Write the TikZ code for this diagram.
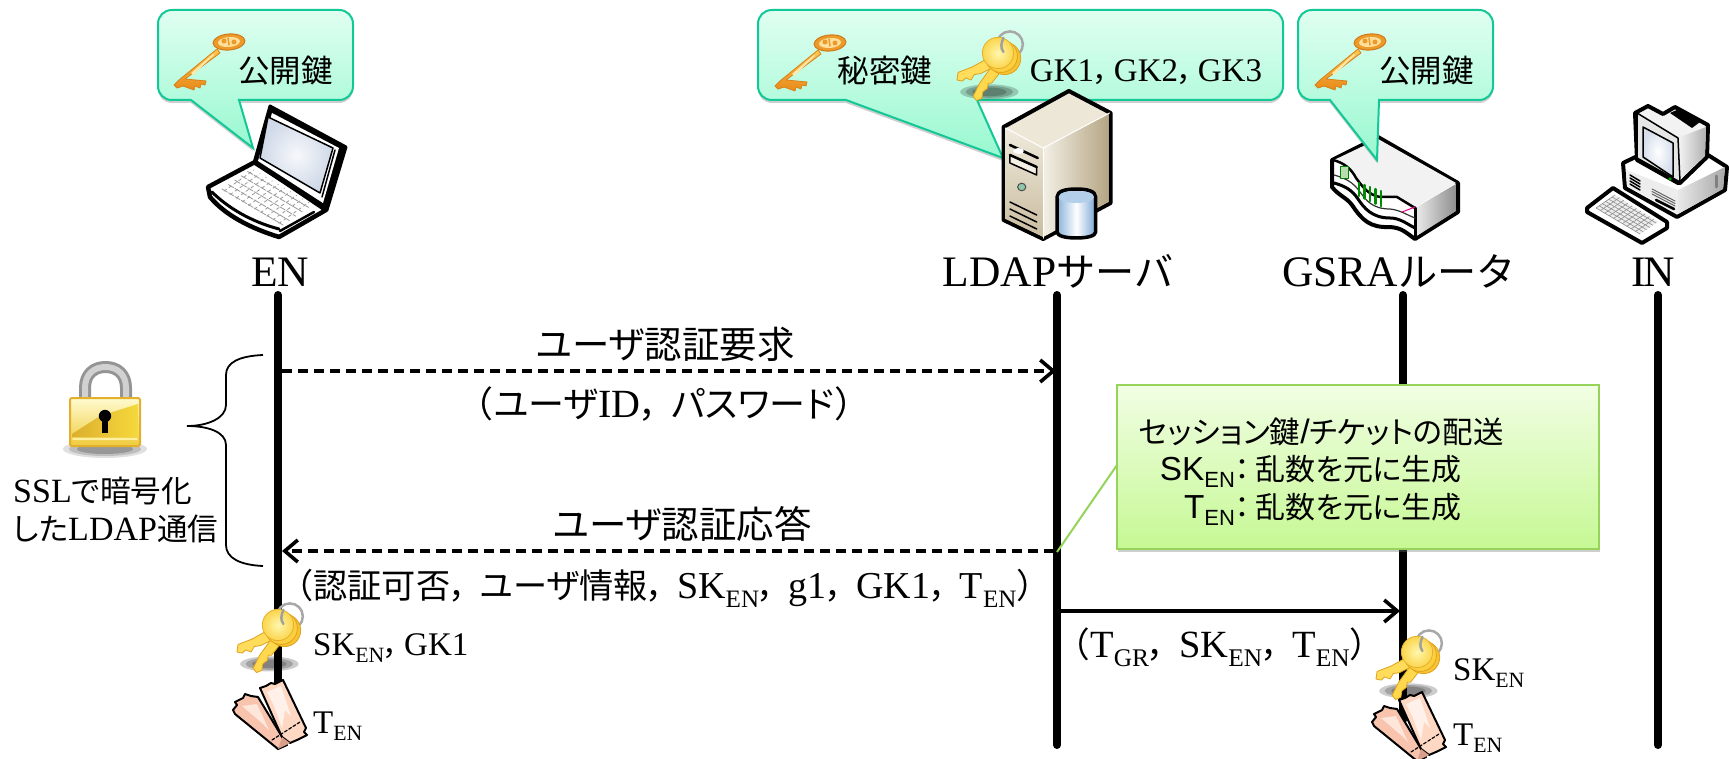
\documentclass[tikz,border=0pt]{standalone}
\usepackage{graphicx}
\usepackage{fontspec}
\setmainfont{Liberation Serif}
\setsansfont{Liberation Sans}
\newfontfamily\jp[Scale=0.9,RawFeature=+palt]{Noto Sans CJK JP}
\newfontfamily\jpf[Scale=0.9]{Noto Sans CJK JP}
\usetikzlibrary{arrows.meta,shadows}
\newcommand\J[1]{{\jp #1}}
\newcommand\Jf[1]{{\jpf #1}}
\newcommand\cm{\J{，}\hspace{0.33em}}
\newcommand\cmn{\J{，}\hspace{0.15em}}
\newcommand\fsz[1]{\fontsize{#1}{#1}\selectfont}
\newcommand\ssb[1]{\raisebox{-0.24em}{\scalebox{0.66}{#1}}}
\newcommand\hx[1]{\definecolor{#1}{HTML}{#1}}
\hx{E0FFF1}\hx{98F8D0}\hx{F1FEE4}\hx{C6F894}
\hx{D8801A}\hx{FFC850}\hx{E88A1A}\hx{D07A18}\hx{EC9A2A}\hx{FFDF9A}\hx{FFE9A8}\hx{A8A8A8}\hx{DFA21E}\hx{FFD84E}\hx{FFDC5A}\hx{E0A41E}
\hx{F6C332}\hx{FBCF3E}\hx{E6B030}\hx{FFF7AE}\hx{FBD54C}\hx{A0A0A0}\hx{F9C4AE}\hx{FFE6DA}\hx{FFD8C4}\hx{FFF1E9}\hx{D8A08A}\hx{F2F2F2}
\hx{EDEDED}\hx{8E8E8E}\hx{B8DDB0}\hx{FFFFFF}\hx{EDE7D8}\hx{EFEADC}\hx{C9BC9F}\hx{F3EFE5}\hx{B5A684}\hx{F4F0E6}\hx{8FC7AC}\hx{8AB2DA}
\hx{7AA6D6}\hx{B3CFEA}\hx{E8E8E8}\hx{F0F0F0}\hx{B0B0B0}\hx{E6E6E6}\hx{D6DEEC}\hx{F6F8FB}\hx{D0D9E8}\hx{E2B02C}\hx{FFFBD0}\hx{EFCB3C}
\hx{DDAE2E}\hx{F5D93C}\hx{FFF0A0}
\definecolor{cborder}{HTML}{12C896}
\definecolor{nborder}{HTML}{96D35A}
\tikzset{
  lifeline/.style={line width=8pt,line cap=round,black},
  msgtip/.style={-{Straight Barb[length=13pt,width=22pt,line width=3.6pt]}},
  msgdash/.style={line width=3.4pt,dash pattern=on 10pt off 6pt,msgtip},
  msgsolid/.style={line width=3.4pt,msgtip},
  calloutbox/.style={draw=cborder,line width=2pt,top color=E0FFF1,bottom color=98F8D0,
     drop shadow={shadow xshift=0pt,shadow yshift=-3pt,opacity=.35,fill=black!55}},
  notebox/.style={draw=nborder,line width=2pt,top color=F1FEE4,bottom color=C6F894,
     drop shadow={shadow xshift=1pt,shadow yshift=-3pt,opacity=.35,fill=black!55}},
  lbl/.style={inner sep=0pt,anchor=base,text=black},
  lbll/.style={inner sep=0pt,anchor=base west,text=black},
  ico/.style={line join=round,line cap=round},
}
% callout: x0,x1,p1,tipx,tipy,p2
\newcommand\calloutshape[6]{%
  \path[calloutbox] ({#1+14},10) -- ({#2-14},10) .. controls ({#2-6},10) and (#2,16) .. (#2,24)
    -- (#2,86) .. controls (#2,94) and ({#2-6},100) .. ({#2-14},100)
    -- (#6,100) -- (#4,#5) -- (#3,100)
    -- ({#1+14},100) .. controls ({#1+6},100) and (#1,94) .. (#1,86)
    -- (#1,24) .. controls (#1,16) and ({#1+6},10) .. ({#1+14},10) -- cycle;}
% single key, origin at centre of the bow
\newcommand\singlekey[2]{\begin{scope}[shift={(#1,#2)},ico]
  \path[draw=D8801A,line width=.8pt,top color=FFC850,bottom color=E88A1A]
    (-12,7) -- (-50,38) -- (-55,43) -- (-52,46) -- (-46,44) -- (-35,48) -- (-34,44) -- (-29,46)
    -- (-28,42) -- (-24,43) -- (-23,39) -- (-44,37) -- (-9,11) -- cycle;
  \path[draw=D07A18,line width=1pt,fill=EC9A2A,rotate=5] (0,0) ellipse [x radius=16,y radius=8];
  \path[fill=FFDF9A,rotate=5] (0,0) ellipse [x radius=11,y radius=5];
  \path[fill=EC9A2A] (-5,-1) circle [radius=2.5] (5,0) circle [radius=2.5];
  \path[draw=EC9A2A,line width=1.5pt] (-1,-4) -- (0,3);
  \path[fill=FFE9A8] (-38,31) -- (-16,12) -- (-15,13) -- (-36,33) -- cycle;
\end{scope}}
% bunch of keys, origin at the bow of the front key
\newcommand\keybunch[2]{\begin{scope}[shift={(#1,#2)},scale=1.08,ico]
  \foreach \r/\q in {27/7,22/5.5,16/4}{\path[fill=black,opacity=.2] (-8,36) ellipse [x radius=\r,y radius=\q];}
  \path[draw=A8A8A8,line width=2.5pt] (11,-8) circle [radius=12];
  \path[draw=DFA21E,line width=.8pt,fill=FFD84E]
    (-4,10) -- (-17,28) -- (-23,40) -- (-20,44) -- (-15,42) -- (-14,36) -- (-10,33) -- (-9,28) -- (-6,28) -- (5,14) -- cycle;
  \path[draw=DFA21E,line width=.8pt,fill=FFDC5A]
    (-6,3) -- (-24,13) -- (-37,18) -- (-38,25) -- (-33,26) -- (-30,23) -- (-25,25) -- (-22,20) -- (-16,19) -- (-2,12) -- cycle;
  \path[draw=E0A41E,line width=.8pt,fill=F6C332] (6,5) circle [radius=15];
  \path[draw=E0A41E,line width=.8pt,fill=FBCF3E] (3,3) circle [radius=15];
  \path[draw=E6B030,line width=.8pt,inner color=FFF7AE,outer color=FBD54C] (0,0) circle [radius=14.5];
  \path[draw=A0A0A0,line width=2.5pt] (5,-1) .. controls (2,-5) and (3,-9) .. (5,-14);
\end{scope}}
% tickets, origin at top of the front stub
\newcommand\ticketpair[2]{\begin{scope}[shift={(#1,#2)},ico]
  \path[draw=black,line width=2pt,fill=F9C4AE] (-50,30) -- (-46,25) -- (-48,22) -- (-40,18) -- (-38,14) -- (-32,16) -- (-25,17)
     -- (4,65) -- (-5,69) -- (-48,34) -- cycle;
  \path[fill=FFE6DA] (-41,26) -- (-26,24) -- (-14,50) -- (-20,44) -- cycle;
  \path[draw=black,line width=2pt,fill=FFD8C4] (-23,8) -- (-17,6) -- (-12,3) -- (-8,4) -- (0,0) -- (23,48) -- (21,52) -- (24,55)
     -- (14,60) -- (7,63) -- (-1,57) -- cycle;
  \path[fill=FFF1E9] (-16,12) -- (-2,6) -- (8,36) -- (2,30) -- (-1,48) -- (-9,26) -- cycle;
  \path[fill=D8A08A] (-1,57) -- (7,63) -- (-5,69) -- cycle;
  \draw[line width=1.2pt,dash pattern=on 3pt off 2pt] (-11,60) -- (17,42);
\end{scope}}
\begin{document}
\begin{tikzpicture}[x=1pt,y=-1pt]
\useasboundingbox (0,0) rectangle (1729,759);
\fill[white] (0,0) rectangle (1729,759);
% lifeline ends
\coordinate (enT) at (278,295);  \coordinate (enB) at (278,700);
\coordinate (ldT) at (1057,295); \coordinate (ldB) at (1057,745);
\coordinate (grT) at (1403,295); \coordinate (grB) at (1403,720);
\coordinate (inT) at (1658,295); \coordinate (inB) at (1658,745);
\draw[lifeline] (enT) -- (enB);
\draw[lifeline] (ldT) -- (ldB);
\draw[lifeline] (grT) -- (grB);
\draw[lifeline] (inT) -- (inB);

% router, under its callout
\begin{scope}[ico]
  \path[fill=white,draw=black,line width=4pt] (1332,160) -- (1378,137) -- (1458,183) -- (1458,212) -- (1415,239)
     .. controls (1405,232) and (1402,228) .. (1390,227) .. controls (1370,228) and (1362,220) .. (1352,205)
     .. controls (1347,198) and (1338,195) .. (1332,187) -- cycle;
  \path[fill=F2F2F2] (1334,160) -- (1378,139) -- (1456,183) -- (1415,207) -- (1397,197) -- (1380,197)
     .. controls (1368,195) and (1362,186) .. (1356,178) .. controls (1352,170) and (1346,163) .. (1334,160) -- cycle;
  \path[left color=EDEDED,right color=8E8E8E] (1415,208) -- (1456,184) -- (1456,211) -- (1415,237) -- cycle;
  \draw[line width=3pt] (1415,208) -- (1415,238);
  \draw[line width=2.5pt] (1333,160) .. controls (1345,163) and (1352,170) .. (1356,178)
     .. controls (1362,186) and (1368,195) .. (1380,197) -- (1397,197) -- (1415,208);
  \draw[line width=3pt] (1334,183) .. controls (1345,186) and (1352,190) .. (1358,199)
     .. controls (1364,208) and (1372,218) .. (1390,218) .. controls (1400,218) and (1407,224) .. (1415,228);
  \draw[line width=1.2pt,black!80] (1334,175) .. controls (1345,178) and (1353,182) .. (1360,192)
     .. controls (1366,200) and (1372,209) .. (1390,209) .. controls (1400,210) and (1407,215) .. (1415,218);
  \path[fill=B8DDB0,draw=green!50!black,line width=1pt] (1340,167) rectangle (1348,179);
  \foreach \i in {0,1,2,3,4}{\draw[line width=2.2pt,green!55!black] ({1359+\i*5.5},{183+\i*2}) -- ({1359+\i*5.5},{196+\i*2.6});}
  \draw[line width=1pt,magenta] (1402,212) -- (1415,207);
\end{scope}

% callouts
\calloutshape{158}{353}{191}{253}{148}{239}
\calloutshape{758}{1283}{846}{1003}{158}{977}
\calloutshape{1298}{1493}{1330}{1377}{160}{1379}

% laptop
\begin{scope}[ico]
  \path[fill=white,draw=black,line width=4.5pt] (208,187) -- (255,162) -- (326,210) -- (279,237)
     .. controls (250,228) and (225,215) .. (210,197) -- cycle;
  \draw[line width=3pt] (212,192) .. controls (228,208) and (252,222) .. (279,229);
  \draw[line width=2.5pt] (280,231) -- (314,212);
  \foreach \i in {0,1,2,3,4}{
    \draw[line width=.8pt,black!40,dash pattern=on 6pt off 1.5pt] ({222+6.4*\i},{189-4.4*\i}) -- ({283+6.4*\i},{225-4.4*\i});}
  \foreach \i in {0,...,9}{
    \draw[line width=.8pt,black!40,dash pattern=on 3pt off 3pt] ({224+6.1*\i},{191+3.6*\i}) -- ({254+6.1*\i},{170+3.6*\i});}
  \path[fill=black,draw=black,line width=3pt] (270,106) -- (346,147) -- (327,210) -- (254,163) -- cycle;
  \path[fill=white] (272,113) -- (339,148) -- (323,203) -- (258,161) -- cycle;
  \draw[line width=1.5pt] (335,150) -- (322,197);
  \path[draw=black,line width=1.5pt,inner color=F6F8FB,outer color=D0D9E8] (268,117) -- (333,148) -- (320,193) -- (260,158) -- cycle;
\end{scope}

% server
\begin{scope}[shift={(-52.9,0)},xscale=1.0714,ico]
  \path[fill=EDE7D8,draw=black,line width=4pt] (1047,91) -- (1086,113) -- (1086,203) -- (1023,239) -- (986,220) -- (986,127) -- cycle;
  \path[top color=EFEADC,bottom color=C9BC9F] (988,128) -- (1023,148) -- (1023,237) -- (988,219) -- cycle;
  \path[left color=F3EFE5,right color=B5A684] (1023,148) -- (1084,114) -- (1084,202) -- (1023,237) -- cycle;
  \draw[white,line width=1.2pt] (1023,148) -- (1023,238);
  \draw[white,line width=1pt] (988,128) -- (1023,148) -- (1085,113);
  \draw[line width=2.5pt] (992,145) -- (1018,158);
  \path[fill=white] (1000,151) ellipse [x radius=5,y radius=3];
  \path[fill=F4F0E6,draw=black,line width=1.5pt] (992,155) -- (1017,167) -- (1017,175) -- (992,163) -- cycle;
  \draw[line width=2.5pt] (992,155) -- (1017,167);
  \path[fill=8FC7AC,draw=black!70,line width=1pt] (1003,187) circle [radius=3.8];
  \foreach \i in {0,1,2,3}{\draw[line width=1.5pt] (992,{202+\i*7}) -- (1017,{215+\i*7});}
  \path[draw=black,line width=3.5pt,left color=8AB2DA,right color=7AA6D6,middle color=FFFFFF]
     (1036,197) .. controls (1036,191) and (1044,189) .. (1054,189) .. controls (1064,189) and (1072,191) .. (1072,197)
     -- (1072,232) .. controls (1072,236) and (1064,238) .. (1054,238) .. controls (1044,238) and (1036,236) .. (1036,232) -- cycle;
  \path[fill=B3CFEA] (1054,197) ellipse [x radius=16.5,y radius=6];
\end{scope}

% desktop computer
\begin{scope}[ico]
  \path[fill=white,draw=black,line width=4pt] (1623,163) -- (1650,150) -- (1700,150) -- (1727,167) -- (1725,190) -- (1677,217) -- (1625,188) -- cycle;
  \path[left color=E8E8E8,right color=A8A8A8] (1678,190) -- (1725,167) -- (1723,189) -- (1678,214) -- cycle;
  \path[fill=EDEDED] (1626,170) -- (1678,190) -- (1678,214) -- (1627,186) -- cycle;
  \foreach \i in {0,...,3}{\draw[line width=1.5pt] (1630,{175+\i*3}) -- (1640,{181+\i*3});}
  \foreach \i in {0,1,2}{\draw[line width=1pt,black!60] (1652,{189+\i*2.5}) -- (1675,{201+\i*2.5});}
  \draw[line width=2.5pt] (1656,200) -- (1674,209);
  \draw[black!50,line width=3pt] (1716,176) -- (1716,187);
  \path[fill=F2F2F2,draw=black,line width=4pt] (1635,113) -- (1648,106) -- (1663,114) -- (1675,107) -- (1708,125) -- (1707,157) -- (1680,183) -- (1678,183) -- (1637,160) -- cycle;
  \path[left color=F0F0F0,right color=B0B0B0] (1680,137) -- (1706,127) -- (1705,155) -- (1680,180) -- cycle;
  \path[fill=E6E6E6,draw=black,line width=1.5pt] (1637,113) -- (1678,138) -- (1680,182) -- (1637,158) -- cycle;
  \path[draw=black,line width=1.5pt,inner color=FFFFFF,outer color=D6DEEC] (1643,127) -- (1673,143) -- (1673,177) -- (1643,157) -- cycle;
  \path[fill=black] (1670,113) -- (1679,109) -- (1700,122) -- (1692,128) -- cycle;
  \path[fill=green!60!black] (1670,179) circle [radius=1.8];
  \path[fill=white,draw=black,line width=4pt] (1587,208) -- (1613,188) -- (1667,222) -- (1667,228) -- (1642,243) -- (1587,212) -- cycle;
  \path[fill=EDEDED] (1596,208) -- (1615,195) -- (1658,222) -- (1640,234) -- cycle;
  \foreach \i in {0,...,5}{\draw[line width=.6pt,black!45] ({1596+3.2*\i},{208-2.2*\i}) -- ({1640+3.2*\i},{234-2.2*\i});}
  \foreach \i in {0,...,9}{\draw[line width=.6pt,black!45] ({1596+4.4*\i},{208+2.6*\i}) -- ({1615+4.3*\i},{195+2.7*\i});}
\end{scope}

% key icons in the callouts
\singlekey{229}{42}
\singlekey{830}{43}
\singlekey{1370}{42}
\keybunch{998}{53}

% padlock
\begin{scope}[ico]
  \foreach \r/\q/\o in {42/9/.12,36/7/.15,28/5/.2}{\path[fill=black,opacity=\o] (105,449) ellipse [x radius=\r,y radius=\q];}
  \draw[line width=12pt,black!42,line cap=butt] (85,398) -- (85,388) .. controls (85,374) and (94,367) .. (105.5,367) .. controls (117,367) and (126,374) .. (126,388) -- (126,398);
  \draw[line width=6pt,black!18,line cap=butt] (85,398) -- (85,388) .. controls (85,374) and (94,367) .. (105.5,367) .. controls (117,367) and (126,374) .. (126,388) -- (126,398);
  \path[draw=E2B02C,line width=2pt,rounded corners=2pt,top color=FFFBD0,bottom color=EFCB3C] (70,398) rectangle (140,446);
  \path[left color=DDAE2E,right color=F5D93C] (72,434) -- (100,416) -- (138,404) -- (138,437) -- (72,437) -- cycle;
  \draw[line width=1.3pt,FFF0A0] (73,439) -- (137,439);
  \path[fill=black] (105,416) circle [radius=6.2];
  \path[fill=black] (102,418) rectangle (108,433);
\end{scope}

% brace
\draw[line width=1.8pt] (263,355) .. controls (240,356) and (226,362) .. (226,375) -- (226,405)
   .. controls (226,418) and (208,426) .. (187,426) .. controls (208,426) and (226,432) .. (226,445) -- (226,545)
   .. controls (226,558) and (240,565) .. (263,566);

% messages
\coordinate (m1a) at (282,371);  \coordinate (m1b) at (1056,371);
\coordinate (m2a) at (1054,551); \coordinate (m2b) at (282,551);
\coordinate (m3a) at (1060,611); \coordinate (m3b) at (1400,611);
\draw[msgdash] (m1a) -- (m1b);
\draw[msgdash] (m2a) -- (m2b);
\draw[msgsolid] (m3a) -- (m3b);

% note and its leader
\coordinate (ntip) at (1057,552);
\coordinate (nroot) at (1117,465);
\draw[nborder,line width=2pt] (ntip) -- (nroot);
\node[notebox,minimum width=482pt,minimum height=164pt,inner sep=0pt] (notebg) at (1358,467) {};

% keys and tickets on the lifelines
\keybunch{278}{625}
\keybunch{1417}{652}
\ticketpair{283}{680}
\ticketpair{1422}{692}

% labels
\node[lbl,font=\fsz{43.5}] (en) at (280,287) {EN};
\node[lbl,font=\fsz{43.5}] (ldap) at (1058,287) {LDAP\Jf{サーバ}};
\node[lbl,font=\fsz{43.5}] (gsra) at (1399,287) {GSRA\Jf{ルータ}};
\node[lbl,font=\fsz{43.5}] (in) at (1653,287) {I\kern-3pt N};
\node[lbl,font=\fsz{35}] (pub1) at (285.5,83) {\J{公開鍵}};
\node[lbl,font=\fsz{35}] (sec) at (885,83) {\J{秘密鍵}};
\node[lbl,font=\fsz{33}] (gk) at (1146,82) {GK1\cmn GK2\cmn GK3};
\node[lbl,font=\fsz{35}] (pub2) at (1426.5,83) {\J{公開鍵}};
\node[lbl,font=\fsz{41.6}] (m1t) at (665.5,358) {\J{ユーザ認証要求}};
\node[lbl,font=\fsz{40}] (m1s) at (664,417) {\Jf{（}\J{ユーザ}ID\cm\J{パスワード}\Jf{）}};
\node[lbl,font=\fsz{41.6}] (m2t) at (682.5,538) {\J{ユーザ認証応答}};
\node[lbl,font=\fsz{38}] (m2s) at (665,598) {\Jf{（}\J{認証可否}\cm\J{ユーザ情報}\cm SK\ssb{EN}\cm g1\cm GK1\cm T\ssb{EN}\Jf{）}};
\node[lbl,font=\fsz{38.5}] (m3s) at (1220,657) {\Jf{（}T\ssb{GR}\cm SK\ssb{EN}\cm T\ssb{EN}\Jf{）}};
\node[lbll,font=\fsz{33}] (lk1) at (313,655) {SK\ssb{EN}\cmn GK1};
\node[lbll,font=\fsz{33}] (lt1) at (313,733) {T\ssb{EN}};
\node[lbll,font=\fsz{33}] (lk2) at (1453,680) {SK\ssb{EN}};
\node[lbll,font=\fsz{33}] (lt2) at (1453,745) {T\ssb{EN}};
\node[lbll,font=\fsz{34}] (ssl1) at (13,502) {SSL\J{で暗号化}};
\node[lbll,font=\fsz{34}] (ssl2) at (13,540) {\J{した}LDAP\J{通信}};
\node[lbll,font=\sffamily\fsz{33.8}] (n1) at (1139,443) {\J{セッション鍵}/\J{チケットの配送}};
\node[anchor=base east,inner sep=0pt,font=\sffamily\fsz{33.3}] (n2) at (1462,480) {SK\ssb{EN}\J{：}\,\J{乱数を元に生成}};
\node[anchor=base east,inner sep=0pt,font=\sffamily\fsz{33.3}] (n3) at (1462,518) {T\ssb{EN}\J{：}\,\J{乱数を元に生成}};
\end{tikzpicture}
\end{document}
